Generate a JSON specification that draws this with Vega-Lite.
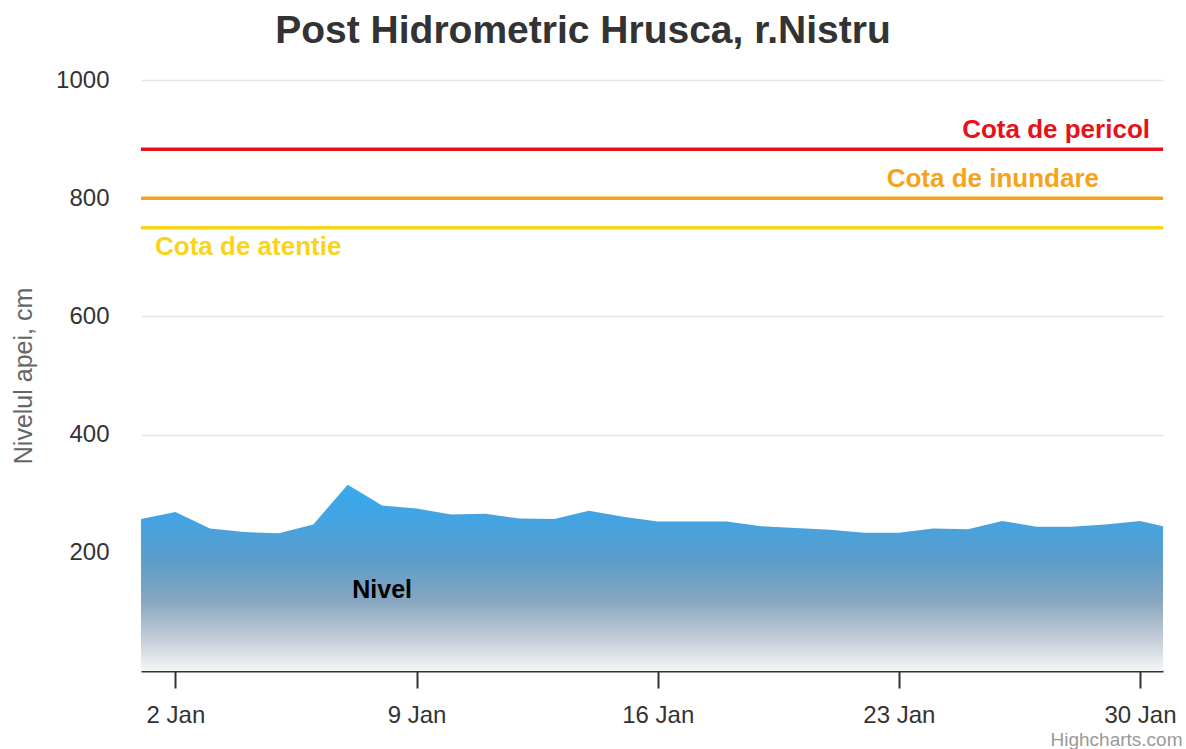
{
  "$schema": "https://vega.github.io/schema/vega-lite/v6.json",
  "width": 1022,
  "height": 591,
  "autosize": {"type": "none"},
  "padding": {"left": 141, "top": 80, "right": 23, "bottom": 78},
  "background": "white",
  "config": {"font": "Liberation Sans", "view": {"stroke": null}},
  "title": {
    "text": "Post Hidrometric Hrusca, r.Nistru",
    "fontSize": 39,
    "fontWeight": "bold",
    "color": "#333333",
    "anchor": "middle",
    "frame": "group",
    "dx": -69,
    "dy": 51,
    "baseline": "alphabetic",
    "offset": 37
  },
  "datasets": {
    "nivel": [
      {"data": "2024-01-01T00:00:00", "nivel": 257},
      {"data": "2024-01-02T00:00:00", "nivel": 269},
      {"data": "2024-01-03T00:00:00", "nivel": 241},
      {"data": "2024-01-04T00:00:00", "nivel": 235},
      {"data": "2024-01-05T00:00:00", "nivel": 233},
      {"data": "2024-01-06T00:00:00", "nivel": 248},
      {"data": "2024-01-07T00:00:00", "nivel": 315},
      {"data": "2024-01-08T00:00:00", "nivel": 280},
      {"data": "2024-01-09T00:00:00", "nivel": 275},
      {"data": "2024-01-10T00:00:00", "nivel": 265},
      {"data": "2024-01-11T00:00:00", "nivel": 266},
      {"data": "2024-01-12T00:00:00", "nivel": 258},
      {"data": "2024-01-13T00:00:00", "nivel": 257},
      {"data": "2024-01-14T00:00:00", "nivel": 271},
      {"data": "2024-01-15T00:00:00", "nivel": 261},
      {"data": "2024-01-16T00:00:00", "nivel": 253},
      {"data": "2024-01-17T00:00:00", "nivel": 253},
      {"data": "2024-01-18T00:00:00", "nivel": 253},
      {"data": "2024-01-19T00:00:00", "nivel": 245},
      {"data": "2024-01-20T00:00:00", "nivel": 242},
      {"data": "2024-01-21T00:00:00", "nivel": 239},
      {"data": "2024-01-22T00:00:00", "nivel": 234},
      {"data": "2024-01-23T00:00:00", "nivel": 234},
      {"data": "2024-01-24T00:00:00", "nivel": 241},
      {"data": "2024-01-25T00:00:00", "nivel": 240},
      {"data": "2024-01-26T00:00:00", "nivel": 254},
      {"data": "2024-01-27T00:00:00", "nivel": 244},
      {"data": "2024-01-28T00:00:00", "nivel": 244},
      {"data": "2024-01-29T00:00:00", "nivel": 248},
      {"data": "2024-01-30T00:00:00", "nivel": 254},
      {"data": "2024-01-30T16:00:00", "nivel": 245}
    ],
    "cote": [
      {"cota": "Cota de pericol", "valoare": 883},
      {"cota": "Cota de inundare", "valoare": 800},
      {"cota": "Cota de atentie", "valoare": 750}
    ],
    "serie": [
      {"serie": "Nivel", "data": "2024-01-08T00:00:00", "pozitie": 137}
    ]
  },
  "layer": [
    {
      "data": {"name": "nivel"},
      "mark": {
        "type": "area",
        "color": {
          "gradient": "linear",
          "x1": 0, "y1": 0, "x2": 0, "y2": 1,
          "stops": [
            {"offset": 0, "color": "#36a9ef"},
            {"offset": 0.2, "color": "#45a3e0"},
            {"offset": 0.4, "color": "#5b9dcb"},
            {"offset": 0.62, "color": "#86a6bf"},
            {"offset": 0.83, "color": "#c4ced8"},
            {"offset": 1, "color": "#f6f6f6"}
          ]
        }
      },
      "encoding": {
        "x": {
          "field": "data",
          "type": "temporal",
          "scale": {"domain": [{"year": 2024, "month": 1, "date": 1}, {"year": 2024, "month": 1, "date": 30, "hours": 16}]},
          "axis": {
            "values": [
              {"year": 2024, "month": 1, "date": 2},
              {"year": 2024, "month": 1, "date": 9},
              {"year": 2024, "month": 1, "date": 16},
              {"year": 2024, "month": 1, "date": 23},
              {"year": 2024, "month": 1, "date": 30}
            ],
            "format": "%-d %b",
            "labelFontSize": 24,
            "labelColor": "#333333",
            "labelPadding": 15,
            "labelFlush": false,
            "tickSize": 17,
            "tickColor": "#333333",
            "tickWidth": 2,
            "domainColor": "#333333",
            "domainWidth": 2,
            "grid": false,
            "title": "Highcharts.com",
            "titleFontSize": 19,
            "titleFontWeight": "normal",
            "titleColor": "#999999",
            "titleAnchor": "end",
            "titleAlign": "right",
            "titleBaseline": "alphabetic",
            "titleX": 1041,
            "titleY": 74
          }
        },
        "y": {
          "field": "nivel",
          "type": "quantitative",
          "scale": {"domain": [0, 1000], "nice": false},
          "axis": {
            "values": [200, 400, 600, 800, 1000],
            "format": "d",
            "labelFontSize": 24,
            "labelColor": "#333333",
            "labelPadding": 32,
            "ticks": false,
            "domain": false,
            "grid": true,
            "gridColor": "#e6e6e6",
            "gridWidth": 1.5,
            "title": "Nivelul apei, cm",
            "titleFontSize": 25,
            "titleFontWeight": "normal",
            "titleColor": "#666666",
            "titlePadding": 19
          }
        }
      }
    },
    {
      "data": {"name": "cote"},
      "mark": {"type": "rule", "strokeWidth": 3.5},
      "encoding": {
        "y": {"field": "valoare", "type": "quantitative"},
        "color": {
          "field": "cota",
          "type": "nominal",
          "scale": {"domain": ["Cota de pericol", "Cota de inundare", "Cota de atentie"], "range": ["#e8101a", "#f6a31b", "#f9d41d"]},
          "legend": null
        }
      }
    },
    {
      "data": {"name": "cote"},
      "transform": [{"filter": "datum.cota === 'Cota de pericol'"}],
      "mark": {"type": "text", "fontSize": 26, "fontWeight": "bold", "align": "right", "baseline": "alphabetic", "dx": -13, "dy": -11},
      "encoding": {
        "text": {"field": "cota"},
        "x": {"datum": {"year": 2024, "month": 1, "date": 30, "hours": 16}, "type": "temporal"},
        "y": {"field": "valoare", "type": "quantitative"},
        "color": {"field": "cota", "type": "nominal", "legend": null}
      }
    },
    {
      "data": {"name": "cote"},
      "transform": [{"filter": "datum.cota === 'Cota de inundare'"}],
      "mark": {"type": "text", "fontSize": 26, "fontWeight": "bold", "align": "right", "baseline": "alphabetic", "dx": -64, "dy": -11},
      "encoding": {
        "text": {"field": "cota"},
        "x": {"datum": {"year": 2024, "month": 1, "date": 30, "hours": 16}, "type": "temporal"},
        "y": {"field": "valoare", "type": "quantitative"},
        "color": {"field": "cota", "type": "nominal", "legend": null}
      }
    },
    {
      "data": {"name": "cote"},
      "transform": [{"filter": "datum.cota === 'Cota de atentie'"}],
      "mark": {"type": "text", "fontSize": 26, "fontWeight": "bold", "align": "left", "baseline": "alphabetic", "dx": 14, "dy": 27},
      "encoding": {
        "text": {"field": "cota"},
        "x": {"datum": {"year": 2024, "month": 1, "date": 1}, "type": "temporal"},
        "y": {"field": "valoare", "type": "quantitative"},
        "color": {"field": "cota", "type": "nominal", "legend": null}
      }
    },
    {
      "data": {"name": "serie"},
      "mark": {"type": "text", "color": "#000000", "fontSize": 25, "fontWeight": "bold", "align": "center", "baseline": "middle"},
      "encoding": {
        "text": {"field": "serie"},
        "x": {"field": "data", "type": "temporal"},
        "y": {"field": "pozitie", "type": "quantitative"}
      }
    }
  ]
}
